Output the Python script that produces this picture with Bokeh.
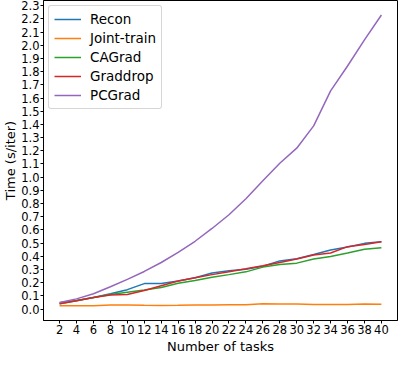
from bokeh.plotting import figure
from bokeh.models import Range1d, FixedTicker, Legend, LegendItem, Title
from bokeh.embed import file_html
from bokeh.resources import INLINE

tasks = [2, 4, 6, 8, 10, 12, 14, 16, 18, 20, 22, 24, 26, 28, 30, 32, 34, 36, 38, 40]
recon = [0.047, 0.065, 0.087, 0.116, 0.147, 0.193, 0.193, 0.212, 0.237, 0.273,
         0.290, 0.302, 0.324, 0.365, 0.382, 0.413, 0.447, 0.471, 0.498, 0.510]
joint_train = [0.025, 0.025, 0.025, 0.030, 0.030, 0.028, 0.027, 0.028, 0.030, 0.030,
               0.032, 0.033, 0.040, 0.038, 0.038, 0.035, 0.035, 0.035, 0.038, 0.037]
cagrad = [0.040, 0.063, 0.087, 0.110, 0.128, 0.145, 0.164, 0.196, 0.217, 0.241,
          0.261, 0.282, 0.318, 0.338, 0.348, 0.379, 0.399, 0.425, 0.454, 0.464]
graddrop = [0.040, 0.063, 0.087, 0.106, 0.110, 0.140, 0.176, 0.212, 0.237, 0.261,
            0.283, 0.305, 0.328, 0.353, 0.380, 0.410, 0.425, 0.473, 0.490, 0.510]
pcgrad = [0.050, 0.077, 0.116, 0.169, 0.225, 0.285, 0.353, 0.430, 0.514, 0.611,
          0.715, 0.836, 0.973, 1.106, 1.220, 1.389, 1.654, 1.843, 2.041, 2.230]

series_names = ["Recon", "Joint-train", "CAGrad", "Graddrop", "PCGrad"]
series_values = [recon, joint_train, cagrad, graddrop, pcgrad]
colors = ["#1f77b4", "#ff7f0e", "#2ca02c", "#d62728", "#9467bd"]

y_ticks = [round(i * 0.1, 1) for i in range(24)]
x_label = "Number of tasks"
y_label = "Time (s/iter)"

FONT = "DejaVu Sans"

p = figure(width=399, height=353, output_backend="svg", toolbar_location=None,
           x_range=Range1d(0.1, 41.9), y_range=Range1d(-0.087, 2.34))
p.min_border_left = 0
p.min_border_right = 2
p.min_border_top = 0
p.min_border_bottom = 0
p.background_fill_color = "white"
p.border_fill_color = "white"
p.outline_line_color = "black"
p.outline_line_width = 1
p.xgrid.visible = False
p.ygrid.visible = False

p.xaxis.ticker = FixedTicker(ticks=tasks)
p.yaxis.ticker = FixedTicker(ticks=y_ticks)
p.yaxis.major_label_overrides = {t: f"{t:.1f}" for t in y_ticks}
for ax in (p.xaxis[0], p.yaxis[0]):
    ax.minor_tick_line_color = None
    ax.major_tick_in = 0
    ax.major_tick_out = 3
    ax.major_label_text_font = FONT
    ax.major_label_text_font_size = "11.5px"
    ax.major_label_text_color = "black"
    ax.major_label_standoff = 1
    ax.axis_label_text_font = FONT
    ax.axis_label_text_font_size = "13px"
    ax.axis_label_text_font_style = "normal"
    ax.axis_label_text_color = "black"
    ax.axis_label_standoff = 0
    ax.axis_line_color = "black"
    ax.major_tick_line_color = "black"
p.yaxis.axis_label = y_label

xtitle = Title(text=x_label, align="center", text_font=FONT, text_font_size="13px",
               text_font_style="normal", text_color="black", standoff=0, offset=0)
p.add_layout(xtitle, "below")

items = []
for name, vals, c in zip(series_names, series_values, colors):
    r = p.line(tasks, vals, line_color=c, line_width=1.5)
    items.append(LegendItem(label=name, renderers=[r]))

legend = Legend(items=items, location="top_left")
legend.label_text_font = FONT
legend.label_text_font_size = "13.5px"
legend.label_text_color = "black"
legend.glyph_width = 27
legend.glyph_height = 16
legend.label_height = 16
legend.spacing = 3
legend.padding = 5
legend.margin = 5
legend.label_standoff = 9
legend.border_line_color = "#cccccc"
legend.border_line_alpha = 0.8
legend.background_fill_alpha = 0.8
if "border_radius" in Legend.properties():
    legend.border_radius = 3
p.add_layout(legend)

open("out.html", "w").write(file_html(p, INLINE))
